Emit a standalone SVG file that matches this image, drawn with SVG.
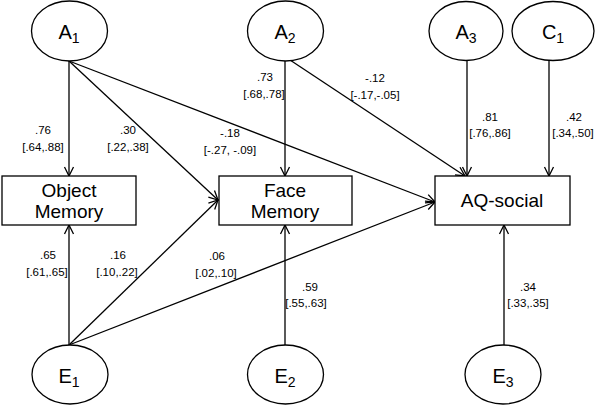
<svg xmlns="http://www.w3.org/2000/svg" width="597" height="405" viewBox="0 0 597 405">
<style>
.n{fill:#fff;stroke:#000;stroke-width:1.3}
.t{font-family:"Liberation Sans",Arial,sans-serif;font-size:19px;fill:#000;text-anchor:middle}
.e{font-family:"Liberation Sans",Arial,sans-serif;font-size:20px;fill:#000;text-anchor:middle}
.s{font-size:14px}
.l{font-family:"Liberation Sans",Arial,sans-serif;font-size:11.5px;fill:#000;text-anchor:middle}
.c{stroke:#000;stroke-width:1.3;fill:none;marker-end:url(#ah)}
</style>
<defs>
<marker id="ah" markerUnits="userSpaceOnUse" markerWidth="12" markerHeight="12" viewBox="0 0 12 12" refX="11" refY="6" orient="auto">
<path d="M2,1.5 L11,6 L2,10.5" fill="none" stroke="#000" stroke-width="1.3"/>
</marker>
</defs>
<rect width="597" height="405" fill="#fff"/>
<g id="connectors">
<line class="c" x1="69" y1="61" x2="69" y2="176"/>
<line class="c" x1="69" y1="61" x2="218" y2="200"/>
<line class="c" x1="69" y1="61" x2="435" y2="202"/>
<line class="c" x1="285" y1="61" x2="285" y2="176"/>
<line class="c" x1="290" y1="60" x2="465" y2="176"/>
<line class="c" x1="467" y1="60" x2="467" y2="176"/>
<line class="c" x1="549" y1="61" x2="549" y2="176"/>
<line class="c" x1="69" y1="345" x2="69" y2="225"/>
<line class="c" x1="69" y1="345" x2="218" y2="200"/>
<line class="c" x1="69" y1="345" x2="435" y2="202"/>
<line class="c" x1="285" y1="345" x2="285" y2="225"/>
<line class="c" x1="504" y1="345" x2="504" y2="225"/>
<text class="l" x="43" y="134">.76</text>
<text class="l" x="43" y="151">[.64,.88]</text>
<text class="l" x="128" y="134">.30</text>
<text class="l" x="128" y="151">[.22,.38]</text>
<text class="l" x="230" y="137">-.18</text>
<text class="l" x="230" y="154">[-.27, -.09]</text>
<text class="l" x="265" y="81">.73</text>
<text class="l" x="264" y="98">[.68,.78]</text>
<text class="l" x="375" y="82">-.12</text>
<text class="l" x="375" y="99">[-.17,-.05]</text>
<text class="l" x="490" y="121">.81</text>
<text class="l" x="490" y="137">[.76,.86]</text>
<text class="l" x="574" y="121">.42</text>
<text class="l" x="573" y="137">[.34,.50]</text>
<text class="l" x="48" y="259">.65</text>
<text class="l" x="47" y="276">[.61,.65]</text>
<text class="l" x="118" y="259">.16</text>
<text class="l" x="117" y="276">[.10,.22]</text>
<text class="l" x="217" y="260">.06</text>
<text class="l" x="216" y="277">[.02,.10]</text>
<text class="l" x="310" y="291">.59</text>
<text class="l" x="306" y="307">[.55,.63]</text>
<text class="l" x="528" y="291">.34</text>
<text class="l" x="528" y="307">[.33,.35]</text>
</g>
<g id="A1"><ellipse class="n" cx="69.5" cy="31" rx="38" ry="30"/><text class="e" x="69" y="39">A<tspan class="s" dy="4">1</tspan></text></g>
<g id="A2"><ellipse class="n" cx="285.5" cy="31" rx="38" ry="30"/><text class="e" x="285" y="39">A<tspan class="s" dy="4">2</tspan></text></g>
<g id="A3"><ellipse class="n" cx="466" cy="31" rx="37" ry="29.5"/><text class="e" x="466" y="39">A<tspan class="s" dy="4">3</tspan></text></g>
<g id="C1"><ellipse class="n" cx="553" cy="31" rx="41" ry="29.5"/><text class="e" x="553" y="39">C<tspan class="s" dy="4">1</tspan></text></g>
<g id="ObjectMemory"><rect class="n" x="2" y="176" width="134" height="49"/><text class="t" x="69" y="197">Object</text><text class="t" x="69" y="218">Memory</text></g>
<g id="FaceMemory"><rect class="n" x="219" y="176" width="133" height="49"/><text class="t" x="285" y="197">Face</text><text class="t" x="285" y="218">Memory</text></g>
<g id="AQsocial"><rect class="n" x="435" y="176" width="135" height="49"/><text class="t" x="502" y="207">AQ-social</text></g>
<g id="E1"><ellipse class="n" cx="70" cy="374.5" rx="38" ry="29.5"/><text class="e" x="69" y="383">E<tspan class="s" dy="4">1</tspan></text></g>
<g id="E2"><ellipse class="n" cx="285.5" cy="374.5" rx="38" ry="29.5"/><text class="e" x="285" y="383">E<tspan class="s" dy="4">2</tspan></text></g>
<g id="E3"><ellipse class="n" cx="503" cy="374.5" rx="38" ry="29.5"/><text class="e" x="503" y="383">E<tspan class="s" dy="4">3</tspan></text></g>
</svg>
